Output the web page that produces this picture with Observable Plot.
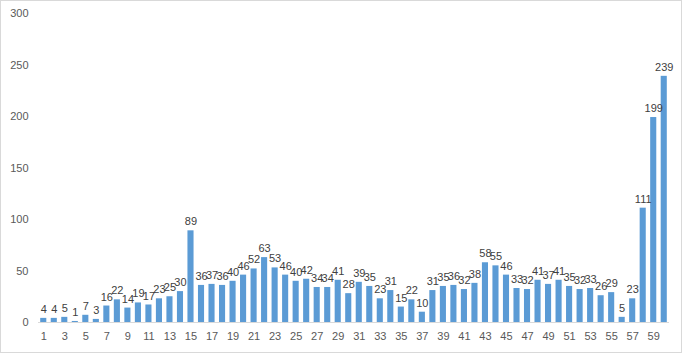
<!DOCTYPE html>
<html>
<head>
<meta charset="utf-8">
<script src="https://cdn.jsdelivr.net/npm/d3@7"></script>
<script src="https://cdn.jsdelivr.net/npm/@observablehq/plot@0.6"></script>
<style>
  html, body { margin: 0; padding: 0; background: #fff; }
  #wrap { position: relative; width: 684px; height: 355px; }
  #border { position: absolute; left: 0; top: 0; width: 680px; height: 351px; border: 1px solid #d9d9d9; pointer-events: none; }
</style>
</head>
<body>
<div id="wrap"><div id="chart"></div><div id="border"></div></div>
<script>
const categories = d3.range(1, 61);
const values = [4,4,5,1,7,3,16,22,14,19,17,23,25,30,89,36,37,36,40,46,52,63,53,46,40,42,34,34,41,28,39,35,23,31,15,22,10,31,35,36,32,38,58,55,46,33,32,41,37,41,35,32,33,26,29,5,23,111,199,239];
const yTicks = [0,50,100,150,200,250,300];
const xTickLabels = categories.filter(d => d % 2 === 1);

const data = categories.map((c, i) => ({c, v: values[i]}));

const chart = Plot.plot({
  width: 684,
  height: 355,
  marginLeft: 38,
  marginRight: 15,
  marginTop: 13,
  marginBottom: 33,
  style: {fontFamily: "'Liberation Sans', Arial, sans-serif", fontSize: "11px", color: "#595959", background: "white"},
  x: {type: "band", domain: categories, paddingInner: 0.42, paddingOuter: 0.21, round: false, label: null},
  y: {domain: [0, 300], label: null},
  marks: [
    Plot.axisY({ticks: yTicks, tickSize: 0, tickPadding: 10, fontSize: 11, fill: "#595959", label: null}),
    Plot.axisX({ticks: xTickLabels, tickSize: 0, tickPadding: 10, fontSize: 11, fill: "#595959", label: null}),
    Plot.barY(data, {x: "c", y: "v", fill: "#5B9BD5"}),
    Plot.ruleY([0], {stroke: "#d9d9d9"}),
    Plot.text(data, {x: "c", y: "v", text: d => String(d.v), dy: -9, fill: "#404040", fontSize: 11})
  ]
});
document.getElementById("chart").appendChild(chart);
</script>
</body>
</html>
